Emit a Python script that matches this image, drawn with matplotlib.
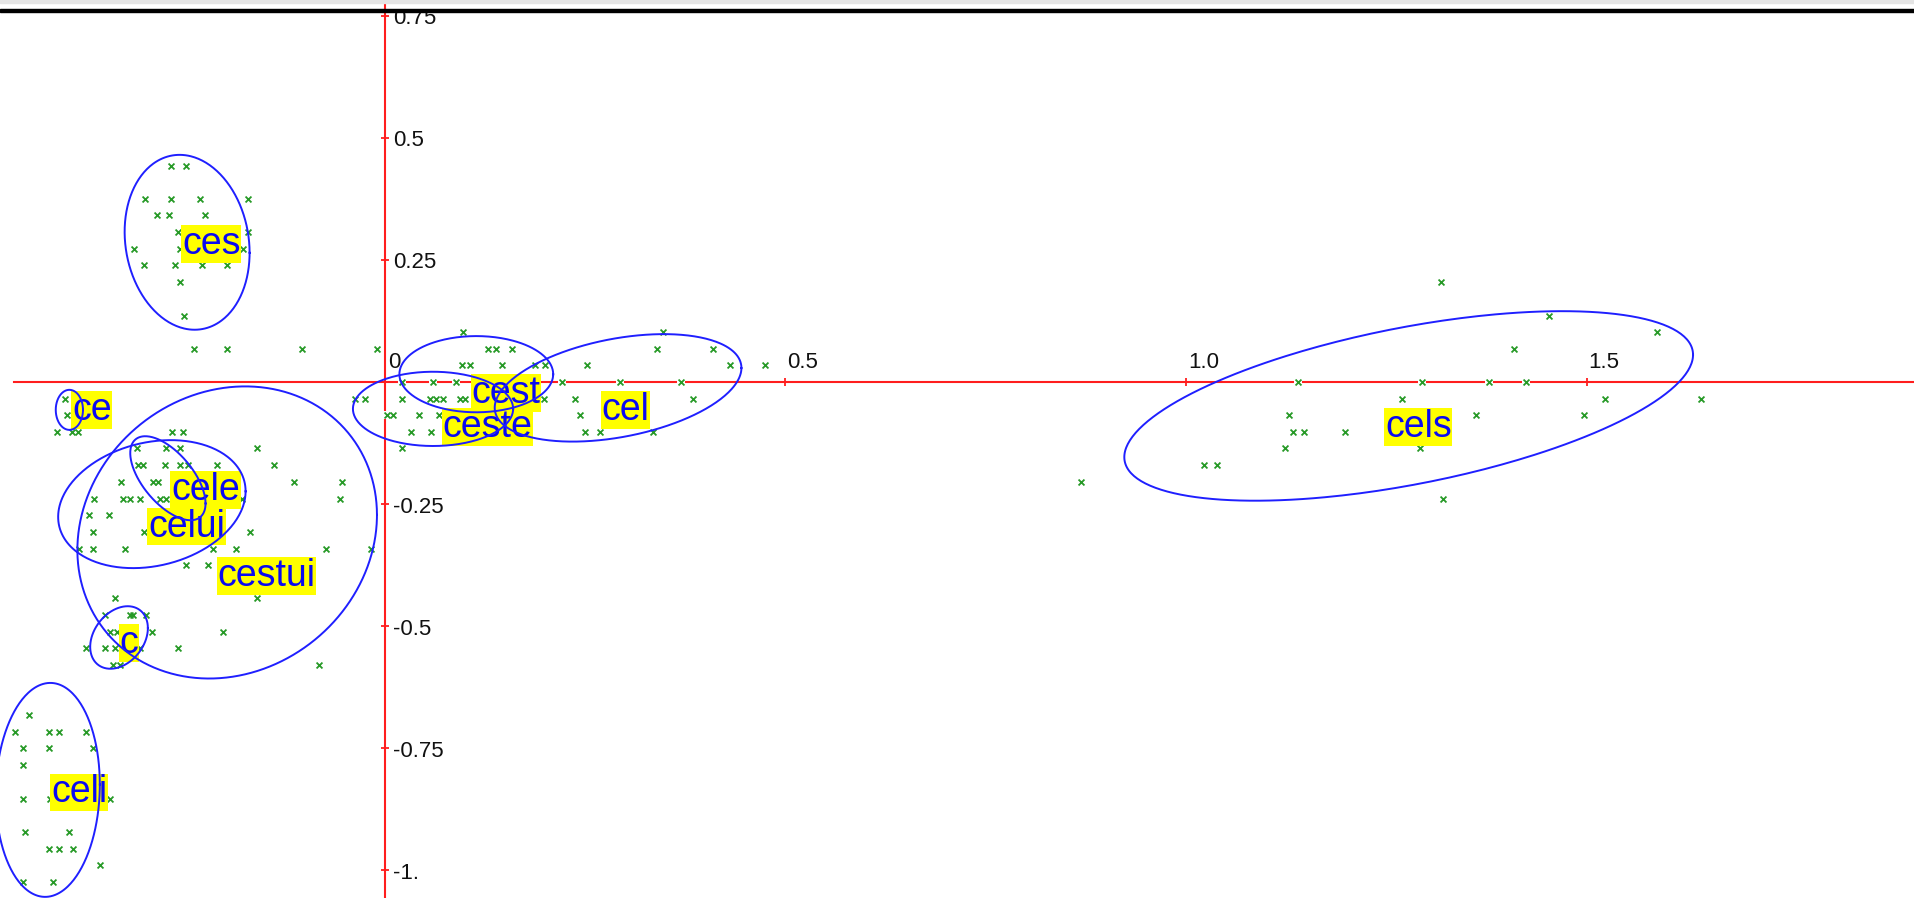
import numpy as np
import matplotlib
matplotlib.use("Agg")
import matplotlib.pyplot as plt
from matplotlib.transforms import offset_copy

plt.rcParams['font.family'] = ['Liberation Sans', 'DejaVu Sans']

# factorial map: word positions on the first two axes
ces_x = [-0.267, -0.248, -0.299, -0.267, -0.231, -0.171, -0.285, -0.270, -0.225,
         -0.259, -0.171, -0.313, -0.256, -0.177, -0.301, -0.262, -0.228, -0.197,
         -0.256, -0.251, -0.238, -0.197, -0.104, -0.010]
ces_y = [0.443, 0.443, 0.375, 0.375, 0.375, 0.375, 0.341, 0.341, 0.341,
         0.307, 0.307, 0.273, 0.273, 0.273, 0.239, 0.239, 0.239, 0.239,
         0.205, 0.136, 0.068, 0.068, 0.068, 0.068]

mid_x = [0.097, 0.347,
         0.129, 0.139, 0.159, 0.339, 0.410,
         0.096, 0.106, 0.146, 0.187, 0.200, 0.252, 0.431, 0.474,
         0.021, 0.060, 0.089, 0.221, 0.293, 0.370,
         -0.037, -0.025, 0.021, 0.056, 0.064, 0.072, 0.094, 0.100, 0.198, 0.237, 0.385,
         0.002, 0.010, 0.042, 0.067, 0.243,
         0.033, 0.057, 0.250, 0.269, 0.335,
         0.021]
mid_y = [0.102, 0.102,
         0.068, 0.068, 0.068, 0.068, 0.068,
         0.034, 0.034, 0.034, 0.034, 0.034, 0.034, 0.034, 0.034,
         0.0, 0.0, 0.0, 0.0, 0.0, 0.0,
         -0.034, -0.034, -0.034, -0.034, -0.034, -0.034, -0.034, -0.034, -0.034, -0.034, -0.034,
         -0.068, -0.068, -0.068, -0.068, -0.068,
         -0.102, -0.102, -0.102, -0.102, -0.102,
         -0.136]

left_x = [-0.400, -0.397, -0.410, -0.391, -0.383,
          -0.266, -0.252,
          -0.309, -0.273, -0.256, -0.160,
          -0.308, -0.302, -0.275, -0.256, -0.246, -0.210, -0.139,
          -0.330, -0.289, -0.283, -0.114, -0.054,
          -0.363, -0.327, -0.318, -0.306, -0.281, -0.273, -0.179, -0.056,
          -0.370, -0.345,
          -0.365, -0.301, -0.169,
          -0.382, -0.365, -0.324, -0.215, -0.186, -0.073, -0.017,
          -0.249, -0.221,
          -0.337, -0.160,
          -0.350, -0.318, -0.314, -0.298,
          -0.343, -0.335, -0.291, -0.202,
          -0.373, -0.350, -0.337, -0.306, -0.259,
          -0.340, -0.331, -0.082]
left_y = [-0.034, -0.068, -0.102, -0.102, -0.102,
          -0.102, -0.102,
          -0.136, -0.136, -0.136, -0.136,
          -0.170, -0.170, -0.170, -0.170, -0.170, -0.170, -0.170,
          -0.205, -0.205, -0.205, -0.205, -0.205,
          -0.239, -0.239, -0.239, -0.239, -0.239, -0.239, -0.239, -0.239,
          -0.273, -0.273,
          -0.307, -0.307, -0.307,
          -0.341, -0.341, -0.341, -0.341, -0.341, -0.341, -0.341,
          -0.375, -0.375,
          -0.443, -0.443,
          -0.477, -0.477, -0.477, -0.477,
          -0.511, -0.511, -0.511, -0.511,
          -0.545, -0.545, -0.545, -0.545, -0.545,
          -0.580, -0.580, -0.580]

celi_x = [-0.445, -0.462, -0.420, -0.407, -0.373, -0.452, -0.420, -0.364, -0.452,
          -0.452, -0.418, -0.343, -0.449, -0.394, -0.420, -0.407, -0.389, -0.356,
          -0.452, -0.415]
celi_y = [-0.682, -0.716, -0.716, -0.716, -0.716, -0.750, -0.750, -0.750, -0.785,
          -0.853, -0.853, -0.853, -0.921, -0.921, -0.955, -0.955, -0.955, -0.989,
          -1.023, -1.023]

cels_x = [1.318, 1.453, 1.588, 1.409, 1.140, 1.295, 1.378, 1.424, 1.270, 1.523,
          1.643, 1.129, 1.362, 1.497, 1.134, 1.147, 1.199, 1.124, 1.292, 1.022,
          1.039, 0.869, 1.321]
cels_y = [0.205, 0.136, 0.102, 0.068, 0.0, 0.0, 0.0, 0.0, -0.034, -0.034,
          -0.034, -0.068, -0.068, -0.068, -0.102, -0.102, -0.102, -0.136, -0.136, -0.170,
          -0.170, -0.205, -0.239]

# word labels and their confidence ellipses (centre, x/y half extents, correlation)
words = ['ces', 'ce', 'cest', 'ceste', 'cel', 'cels', 'cele', 'celui', 'cestui', 'c', 'celi']
word_x = [-0.217, -0.366, 0.151, 0.128, 0.300, 1.290, -0.224, -0.248, -0.148, -0.320, -0.382]
word_y = [0.283, -0.057, -0.023, -0.092, -0.057, -0.092, -0.221, -0.296, -0.397, -0.534, -0.840]

ell_cx = [-0.247, -0.394, 0.114, 0.060, 0.291, 1.278, -0.271, -0.291, -0.197, -0.332, -0.421]
ell_cy = [0.286, -0.057, 0.016, -0.055, -0.012, -0.049, -0.197, -0.250, -0.308, -0.523, -0.835]
ell_rx = [0.078, 0.017, 0.096, 0.100, 0.154, 0.355, 0.047, 0.117, 0.187, 0.036, 0.065]
ell_ry = [0.179, 0.041, 0.078, 0.076, 0.110, 0.194, 0.086, 0.131, 0.299, 0.064, 0.219]
ell_rho = [-0.12, 0.0, 0.0, 0.0, 0.37, 0.54, -0.6, 0.2, 0.12, 0.3, 0.05]

xticks = [0.5, 1.0, 1.5]
xtick_labels = ['0.5', '1.0', '1.5']
yticks = [0.75, 0.5, 0.25, -0.25, -0.5, -0.75, -1.0]
ytick_labels = ['0.75', '0.5', '0.25', '-0.25', '-0.5', '-0.75', '-1.']

W, H = 1915, 898
fig = plt.figure(figsize=(W / 100, H / 100), dpi=100)
ax = fig.add_axes([0, 0, 1, 1])
ax.set_xlim(-0.4806, 1.9101)
ax.set_ylim(-1.0563, 0.782)
ax.axis('off')

red = '#ff1e1e'
# axes through the origin
ax.plot([-0.463, 1.95], [0, 0], color=red, lw=1.5, zorder=1)
ax.plot([0, 0], [-1.1, 0.8], color=red, lw=1.5, zorder=1)
ax.plot(xticks, [0] * len(xticks), ls='none', marker='|', ms=6, mew=1.3, color=red, zorder=1)
ax.plot([0] * len(yticks), yticks, ls='none', marker='_', ms=6, mew=1.3, color=red, zorder=1)

xlab_tr = offset_copy(ax.transData, fig=fig, x=2, y=9, units='dots')
for v, s in zip(xticks, xtick_labels):
    ax.text(v, 0, s, transform=xlab_tr, ha='left', va='bottom', fontsize=16, color='#111111')
ax.text(0, 0, '0', transform=offset_copy(ax.transData, fig=fig, x=3, y=9, units='dots'),
        ha='left', va='bottom', fontsize=16, color='#111111')
ylab_tr = offset_copy(ax.transData, fig=fig, x=8, y=-3, units='dots')
for v, s in zip(yticks, ytick_labels):
    ax.text(0, v, s, transform=ylab_tr, ha='left', va='center', fontsize=16, color='#111111')

# the points: white patch first so they cut the axis lines, then the crosses
all_x = ces_x + mid_x + left_x + celi_x + cels_x
all_y = ces_y + mid_y + left_y + celi_y + cels_y
ax.scatter(all_x, all_y, marker='s', s=30, color='white', linewidths=0, zorder=2)
ax.scatter(all_x, all_y, marker='x', s=18, color='#279a27', linewidths=1.3, zorder=3)

for w, x, y in zip(words, word_x, word_y):
    ax.text(x, y, w, ha='center', va='center', fontsize=27, color='#0a0af0', zorder=4,
            bbox=dict(boxstyle='square,pad=0.02', fc='#ffff00', ec='none'))

t = np.linspace(0, 2 * np.pi, 300)
for cx, cy, rx, ry, rho in zip(ell_cx, ell_cy, ell_rx, ell_ry, ell_rho):
    ex = cx + rx * np.cos(t)
    ey = cy + ry * (rho * np.cos(t) + np.sqrt(1 - rho ** 2) * np.sin(t))
    ax.plot(ex, ey, color='#1f1fff', lw=1.4, zorder=5)

# window frame at the top
fig.add_artist(plt.Rectangle((0, 1 - 3 / H), 1, 3 / H, transform=fig.transFigure,
                             color='#e4e4e4', zorder=10))
fig.add_artist(plt.Rectangle((0, 1 - 12 / H), 1, 3 / H, transform=fig.transFigure,
                             color='black', zorder=10))

fig.savefig('out.png', dpi=100)
